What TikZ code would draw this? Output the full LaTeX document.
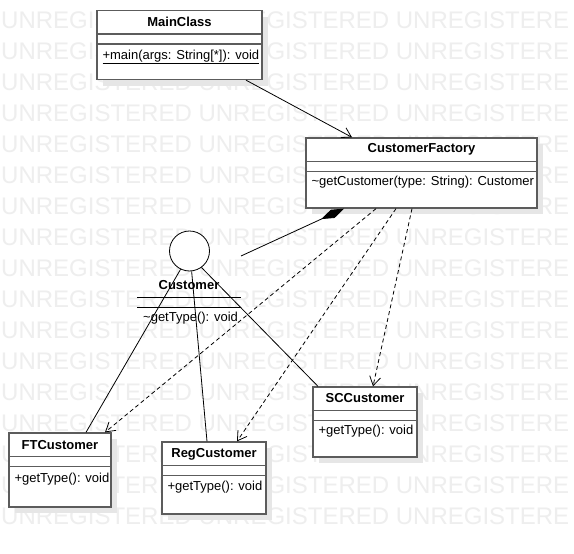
\documentclass[tikz,border=0pt]{standalone}
\usepackage{fontspec}
\setmainfont{Liberation Sans}
\usepackage{xcolor}
\usepackage{tikz}
\usetikzlibrary{arrows.meta,positioning,calc,shadows}
\definecolor{boxline}{HTML}{5C5C5C}
\definecolor{shade}{HTML}{E6E6E6}
\definecolor{mark}{HTML}{EEEEEE}

\begin{document}
\begin{tikzpicture}[x=1pt, y=-1pt, >=Stealth,
  classbox/.style={draw=boxline, line width=1.3pt, fill=white, inner sep=0pt,
    drop shadow={shadow xshift=6pt, shadow yshift=-6pt, fill=shade, opacity=1}},
  divider/.style={draw=boxline, line width=1.3pt},
  title/.style={font=\fontsize{13}{15}\selectfont\bfseries, inner sep=0pt},
  op/.style={font=\fontsize{13}{15}\selectfont, inner sep=0pt, anchor=west},
  watermark/.style={font=\fontsize{24}{28}\selectfont, text=mark, inner sep=0pt, anchor=west},
  link/.style={line width=0.8pt},
  depends/.style={line width=0.8pt, dash pattern=on 4pt off 3pt, -{Straight Barb[length=9pt,width=11pt]}},
  navig/.style={line width=0.8pt, -{Straight Barb[length=9pt,width=11pt]}}]
  \useasboundingbox (0,0) rectangle (574,554);
  \fill[white] (0,0) rectangle (574,554);
  % background mark
  \begin{scope}
    \clip (0,0) rectangle (574,554);
    \foreach \r in {0,...,16}
      \node[watermark] (wm\r) at (1,{20+31*\r}) {UNREGISTERED UNREGISTERED UNREGISTERE};
  \end{scope}
  % classes
  \node[classbox, minimum width=165pt, minimum height=69pt] (main) at (179.5,45) {};
  \node[classbox, minimum width=231pt, minimum height=70pt] (factory) at (421.5,173) {};
  \node[classbox, minimum width=102pt, minimum height=74pt] (ft) at (60,470) {};
  \node[classbox, minimum width=104pt, minimum height=72pt] (reg) at (214,478) {};
  \node[classbox, minimum width=104pt, minimum height=70pt] (sc) at (365,422) {};
  \foreach \c in {main,factory,ft,reg,sc} {
    \draw[divider] ([yshift=-24pt]\c.north west) -- ([yshift=-24pt]\c.north east);
    \draw[divider] ([yshift=-34pt]\c.north west) -- ([yshift=-34pt]\c.north east);
  }
  \node[title] (mainT) at ([yshift=-12pt]main.north) {MainClass};
  \node[op] (mainOp) at ([xshift=6pt,yshift=-47pt]main.north west) {\underline{+main(args: String[*]): void}};
  \node[title] (factoryT) at ([yshift=-12pt]factory.north) {CustomerFactory};
  \node[op] (factoryOp) at ([xshift=6pt,yshift=-45pt]factory.north west) {\textasciitilde getCustomer(type: String): Customer};
  \node[title] (ftT) at ([yshift=-13pt]ft.north) {FTCustomer};
  \node[op] (ftOp) at ([xshift=6pt,yshift=-47pt]ft.north west) {+getType(): void};
  \node[title] (regT) at ([yshift=-13pt]reg.north) {RegCustomer};
  \node[op] (regOp) at ([xshift=6pt,yshift=-46pt]reg.north west) {+getType(): void};
  \node[title] (scT) at ([yshift=-12pt]sc.north) {SCCustomer};
  \node[op] (scOp) at ([xshift=6pt,yshift=-45pt]sc.north west) {+getType(): void};
  % interface
  \node[draw, circle, fill=white, line width=0.8pt, minimum size=40pt, inner sep=0pt] (iface) at (189.5,251) {};
  \node[title] (custT) at (189,285) {Customer};
  \draw[line width=0.8pt] (137,297) -- (241,297);
  \draw[line width=0.8pt] (137,307) -- (241,307);
  \node[op] (custOp) at (143,318) {\textasciitilde getType(): void};
  \coordinate (custEnd) at (241,256);
  % connectors
  \draw[navig] ([xshift=66.5pt]main.south) -- ([xshift=-69.5pt]factory.north);
  \draw[link, -{Diamond[length=25pt,width=9pt,fill=black]}] (custEnd) -- ([xshift=-77.5pt]factory.south);
  \draw[link] (iface.244) -- ([xshift=26pt]ft.north);
  \draw[link] (iface.276) -- ([xshift=-7pt]reg.north);
  \draw[link] (iface.306) -- ([xshift=-47pt]sc.north);
  \draw[depends] ([xshift=-45.5pt]factory.south) -- ([xshift=45pt]ft.north);
  \draw[depends] ([xshift=-25.5pt]factory.south) -- ([xshift=23pt]reg.north);
  \draw[depends] ([xshift=-9.5pt]factory.south) -- ([xshift=8pt]sc.north);
\end{tikzpicture}
\end{document}
